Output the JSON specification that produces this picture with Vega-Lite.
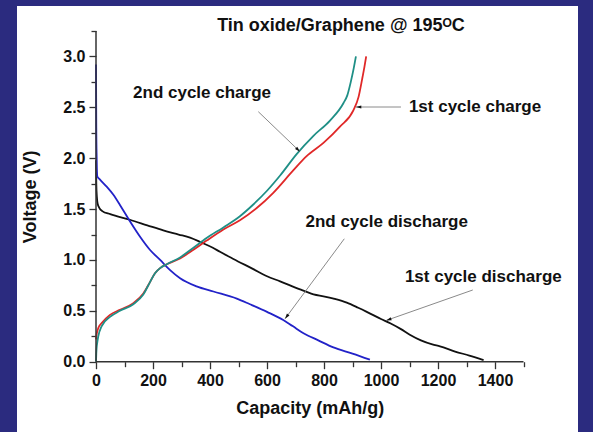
{
  "$schema": "https://vega.github.io/schema/vega-lite/v6.json",
  "width": 561,
  "height": 426,
  "autosize": {"type": "none"},
  "padding": {"left": 17, "top": 6, "right": 15, "bottom": 0},
  "background": "#2b2b7f",
  "config": {"view": {"fill": "white", "stroke": null}, "font": "Liberation Sans"},
  "datasets": {
    "curves": [
      {"series": "1st cycle discharge", "capacity": 0, "voltage": 1.98},
      {"series": "1st cycle discharge", "capacity": 1, "voltage": 1.75},
      {"series": "1st cycle discharge", "capacity": 3, "voltage": 1.62},
      {"series": "1st cycle discharge", "capacity": 6, "voltage": 1.55},
      {"series": "1st cycle discharge", "capacity": 12, "voltage": 1.51},
      {"series": "1st cycle discharge", "capacity": 22, "voltage": 1.48},
      {"series": "1st cycle discharge", "capacity": 50, "voltage": 1.45},
      {"series": "1st cycle discharge", "capacity": 119, "voltage": 1.395},
      {"series": "1st cycle discharge", "capacity": 180, "voltage": 1.34},
      {"series": "1st cycle discharge", "capacity": 236, "voltage": 1.29},
      {"series": "1st cycle discharge", "capacity": 290, "voltage": 1.25},
      {"series": "1st cycle discharge", "capacity": 330, "voltage": 1.22},
      {"series": "1st cycle discharge", "capacity": 371, "voltage": 1.17},
      {"series": "1st cycle discharge", "capacity": 410, "voltage": 1.12},
      {"series": "1st cycle discharge", "capacity": 435, "voltage": 1.08},
      {"series": "1st cycle discharge", "capacity": 482, "voltage": 1.01},
      {"series": "1st cycle discharge", "capacity": 552, "voltage": 0.91},
      {"series": "1st cycle discharge", "capacity": 600, "voltage": 0.84},
      {"series": "1st cycle discharge", "capacity": 646, "voltage": 0.79},
      {"series": "1st cycle discharge", "capacity": 716, "voltage": 0.71},
      {"series": "1st cycle discharge", "capacity": 755, "voltage": 0.67},
      {"series": "1st cycle discharge", "capacity": 834, "voltage": 0.62},
      {"series": "1st cycle discharge", "capacity": 880, "voltage": 0.58},
      {"series": "1st cycle discharge", "capacity": 920, "voltage": 0.53},
      {"series": "1st cycle discharge", "capacity": 950, "voltage": 0.49},
      {"series": "1st cycle discharge", "capacity": 1000, "voltage": 0.42},
      {"series": "1st cycle discharge", "capacity": 1034, "voltage": 0.375},
      {"series": "1st cycle discharge", "capacity": 1070, "voltage": 0.32},
      {"series": "1st cycle discharge", "capacity": 1101, "voltage": 0.265},
      {"series": "1st cycle discharge", "capacity": 1140, "voltage": 0.21},
      {"series": "1st cycle discharge", "capacity": 1180, "voltage": 0.17},
      {"series": "1st cycle discharge", "capacity": 1207, "voltage": 0.15},
      {"series": "1st cycle discharge", "capacity": 1260, "voltage": 0.1},
      {"series": "1st cycle discharge", "capacity": 1310, "voltage": 0.06},
      {"series": "1st cycle discharge", "capacity": 1360, "voltage": 0.016},
      {"series": "2nd cycle discharge", "capacity": 0, "voltage": 2.92},
      {"series": "2nd cycle discharge", "capacity": 0.5, "voltage": 2.6},
      {"series": "2nd cycle discharge", "capacity": 1, "voltage": 2.3},
      {"series": "2nd cycle discharge", "capacity": 2, "voltage": 2.05},
      {"series": "2nd cycle discharge", "capacity": 3, "voltage": 1.9},
      {"series": "2nd cycle discharge", "capacity": 4.7, "voltage": 1.82},
      {"series": "2nd cycle discharge", "capacity": 14, "voltage": 1.79},
      {"series": "2nd cycle discharge", "capacity": 37.5, "voltage": 1.72},
      {"series": "2nd cycle discharge", "capacity": 61, "voltage": 1.64},
      {"series": "2nd cycle discharge", "capacity": 84, "voltage": 1.54},
      {"series": "2nd cycle discharge", "capacity": 119, "voltage": 1.38},
      {"series": "2nd cycle discharge", "capacity": 154, "voltage": 1.23},
      {"series": "2nd cycle discharge", "capacity": 189, "voltage": 1.1},
      {"series": "2nd cycle discharge", "capacity": 225, "voltage": 1.0},
      {"series": "2nd cycle discharge", "capacity": 260, "voltage": 0.9},
      {"series": "2nd cycle discharge", "capacity": 295, "voltage": 0.82},
      {"series": "2nd cycle discharge", "capacity": 353, "voltage": 0.74},
      {"series": "2nd cycle discharge", "capacity": 412, "voltage": 0.69},
      {"series": "2nd cycle discharge", "capacity": 494, "voltage": 0.62},
      {"series": "2nd cycle discharge", "capacity": 540, "voltage": 0.565},
      {"series": "2nd cycle discharge", "capacity": 600, "voltage": 0.49},
      {"series": "2nd cycle discharge", "capacity": 657, "voltage": 0.41},
      {"series": "2nd cycle discharge", "capacity": 690, "voltage": 0.35},
      {"series": "2nd cycle discharge", "capacity": 728, "voltage": 0.28},
      {"series": "2nd cycle discharge", "capacity": 780, "voltage": 0.21},
      {"series": "2nd cycle discharge", "capacity": 833, "voltage": 0.14},
      {"series": "2nd cycle discharge", "capacity": 900, "voltage": 0.08},
      {"series": "2nd cycle discharge", "capacity": 961, "voltage": 0.02},
      {"series": "1st cycle charge", "capacity": 0, "voltage": 0.22},
      {"series": "1st cycle charge", "capacity": 3, "voltage": 0.28},
      {"series": "1st cycle charge", "capacity": 8, "voltage": 0.33},
      {"series": "1st cycle charge", "capacity": 20, "voltage": 0.38},
      {"series": "1st cycle charge", "capacity": 49, "voltage": 0.46},
      {"series": "1st cycle charge", "capacity": 84, "voltage": 0.51},
      {"series": "1st cycle charge", "capacity": 131, "voltage": 0.575},
      {"series": "1st cycle charge", "capacity": 166, "voltage": 0.67},
      {"series": "1st cycle charge", "capacity": 189, "voltage": 0.78},
      {"series": "1st cycle charge", "capacity": 207, "voltage": 0.87},
      {"series": "1st cycle charge", "capacity": 225, "voltage": 0.92},
      {"series": "1st cycle charge", "capacity": 250, "voltage": 0.96},
      {"series": "1st cycle charge", "capacity": 295, "voltage": 1.015},
      {"series": "1st cycle charge", "capacity": 342, "voltage": 1.1},
      {"series": "1st cycle charge", "capacity": 388, "voltage": 1.19},
      {"series": "1st cycle charge", "capacity": 447, "voltage": 1.3},
      {"series": "1st cycle charge", "capacity": 505, "voltage": 1.39},
      {"series": "1st cycle charge", "capacity": 564, "voltage": 1.51},
      {"series": "1st cycle charge", "capacity": 622, "voltage": 1.66},
      {"series": "1st cycle charge", "capacity": 692, "voltage": 1.88},
      {"series": "1st cycle charge", "capacity": 739, "voltage": 2.02},
      {"series": "1st cycle charge", "capacity": 798, "voltage": 2.15},
      {"series": "1st cycle charge", "capacity": 856, "voltage": 2.31},
      {"series": "1st cycle charge", "capacity": 903, "voltage": 2.47},
      {"series": "1st cycle charge", "capacity": 921, "voltage": 2.6},
      {"series": "1st cycle charge", "capacity": 934, "voltage": 2.78},
      {"series": "1st cycle charge", "capacity": 942, "voltage": 2.9},
      {"series": "1st cycle charge", "capacity": 948, "voltage": 3.0},
      {"series": "2nd cycle charge", "capacity": 0, "voltage": 0.0},
      {"series": "2nd cycle charge", "capacity": 1, "voltage": 0.08},
      {"series": "2nd cycle charge", "capacity": 2, "voltage": 0.13},
      {"series": "2nd cycle charge", "capacity": 5, "voltage": 0.2},
      {"series": "2nd cycle charge", "capacity": 8, "voltage": 0.25},
      {"series": "2nd cycle charge", "capacity": 20, "voltage": 0.35},
      {"series": "2nd cycle charge", "capacity": 49, "voltage": 0.44},
      {"series": "2nd cycle charge", "capacity": 84, "voltage": 0.5},
      {"series": "2nd cycle charge", "capacity": 131, "voltage": 0.565},
      {"series": "2nd cycle charge", "capacity": 166, "voltage": 0.66},
      {"series": "2nd cycle charge", "capacity": 189, "voltage": 0.78},
      {"series": "2nd cycle charge", "capacity": 207, "voltage": 0.87},
      {"series": "2nd cycle charge", "capacity": 225, "voltage": 0.92},
      {"series": "2nd cycle charge", "capacity": 250, "voltage": 0.96},
      {"series": "2nd cycle charge", "capacity": 295, "voltage": 1.025},
      {"series": "2nd cycle charge", "capacity": 342, "voltage": 1.12},
      {"series": "2nd cycle charge", "capacity": 388, "voltage": 1.215},
      {"series": "2nd cycle charge", "capacity": 447, "voltage": 1.32},
      {"series": "2nd cycle charge", "capacity": 505, "voltage": 1.43},
      {"series": "2nd cycle charge", "capacity": 550, "voltage": 1.54},
      {"series": "2nd cycle charge", "capacity": 600, "voltage": 1.68},
      {"series": "2nd cycle charge", "capacity": 646, "voltage": 1.83},
      {"series": "2nd cycle charge", "capacity": 704, "voltage": 2.04},
      {"series": "2nd cycle charge", "capacity": 763, "voltage": 2.22},
      {"series": "2nd cycle charge", "capacity": 821, "voltage": 2.37},
      {"series": "2nd cycle charge", "capacity": 868, "voltage": 2.54},
      {"series": "2nd cycle charge", "capacity": 882, "voltage": 2.62},
      {"series": "2nd cycle charge", "capacity": 894, "voltage": 2.75},
      {"series": "2nd cycle charge", "capacity": 904, "voltage": 2.88},
      {"series": "2nd cycle charge", "capacity": 912, "voltage": 3.0}
    ],
    "axislines": [
      {"capacity": 0, "voltage": 0, "capacity2": 1500, "voltage2": 0},
      {"capacity": 0, "voltage": 0, "capacity2": 0, "voltage2": 3.25}
    ],
    "arrows": [
      {"capacity": 569.5, "voltage": 2.457, "capacity2": 715.8, "voltage2": 2.064},
      {"capacity": 1070, "voltage": 2.503, "capacity2": 912, "voltage2": 2.503},
      {"capacity": 871.2, "voltage": 1.208, "capacity2": 663.2, "voltage2": 0.4216},
      {"capacity": 1322, "voltage": 0.7047, "capacity2": 1018, "voltage2": 0.405}
    ],
    "labels": [
      {"label": "2nd cycle charge", "capacity": 372, "voltage": 2.64},
      {"label": "1st cycle charge", "capacity": 1330, "voltage": 2.506},
      {"label": "2nd cycle discharge", "capacity": 1020, "voltage": 1.376},
      {"label": "1st cycle discharge", "capacity": 1359, "voltage": 0.83}
    ],
    "title": [
      {"label": "Tin oxide/Graphene @ 195ᴼC", "capacity": 859.6, "voltage": 3.3}
    ]
  },
  "encoding": {
    "x": {
      "field": "capacity",
      "type": "quantitative",
      "scale": {"domain": [-277.2, 1691.2], "nice": false, "zero": false},
      "axis": {
        "values": [0, 100, 200, 300, 400, 500, 600, 700, 800, 900, 1000, 1100, 1200, 1300, 1400, 1500],
        "format": "d",
        "domain": false,
        "grid": false,
        "offset": -70.3,
        "tickColor": "#333333",
        "tickWidth": 1.3,
        "tickSize": {"condition": {"test": "datum.value % 200 === 0", "value": 7}, "value": 5},
        "labelExpr": "datum.value % 200 === 0 ? datum.label : ''",
        "labelFont": "Liberation Sans",
        "labelFontSize": 16,
        "labelFontWeight": "bold",
        "labelColor": "#111111",
        "labelPadding": 4,
        "labelOverlap": false,
        "labelFlush": false,
        "labelBound": false,
        "title": "Capacity (mAh/g)",
        "titleFont": "Liberation Sans",
        "titleFontSize": 18,
        "titleFontWeight": "bold",
        "titleColor": "#111111",
        "titleX": 292.7,
        "titleY": 46.5,
        "titleAlign": "center",
        "titleBaseline": "middle"
      }
    },
    "y": {
      "field": "voltage",
      "type": "quantitative",
      "scale": {"domain": [-0.6909, 3.4957], "nice": false, "zero": false},
      "axis": {
        "values": [0, 0.25, 0.5, 0.75, 1, 1.25, 1.5, 1.75, 2, 2.25, 2.5, 2.75, 3, 3.25],
        "format": ".1f",
        "domain": false,
        "grid": false,
        "offset": -79,
        "tickColor": "#333333",
        "tickWidth": 1.3,
        "tickSize": {"condition": {"test": "abs(datum.value * 2 - round(datum.value * 2)) < 0.001", "value": 7}, "value": 5},
        "labelExpr": "abs(datum.value * 2 - round(datum.value * 2)) < 0.001 ? datum.label : ''",
        "labelFont": "Liberation Sans",
        "labelFontSize": 16,
        "labelFontWeight": "bold",
        "labelColor": "#111111",
        "labelPadding": 4,
        "labelOverlap": false,
        "labelFlush": false,
        "labelBound": false,
        "title": "Voltage (V)",
        "titleFont": "Liberation Sans",
        "titleFontSize": 18,
        "titleFontWeight": "bold",
        "titleColor": "#111111",
        "titleAngle": -90,
        "titleX": -66,
        "titleY": 190.4,
        "titleAlign": "center",
        "titleBaseline": "middle"
      }
    }
  },
  "layer": [
    {
      "data": {"name": "curves"},
      "mark": {"type": "line", "strokeWidth": 1.8, "interpolate": "monotone"},
      "encoding": {
        "color": {
          "field": "series",
          "type": "nominal",
          "scale": {
            "domain": ["1st cycle discharge", "2nd cycle discharge", "2nd cycle charge", "1st cycle charge"],
            "range": ["#111111", "#2222c8", "#1f8f86", "#e02828"]
          },
          "legend": null
        }
      }
    },
    {
      "data": {"name": "axislines"},
      "mark": {"type": "rule", "color": "#333333", "strokeWidth": 1.5},
      "encoding": {
        "x2": {"field": "capacity2"},
        "y2": {"field": "voltage2"}
      }
    },
    {
      "data": {"name": "arrows"},
      "mark": {"type": "rule", "color": "#8a8a8a", "strokeWidth": 1},
      "encoding": {
        "x2": {"field": "capacity2"},
        "y2": {"field": "voltage2"}
      }
    },
    {
      "data": {"name": "arrows"},
      "transform": [
        {"calculate": "atan2((datum.capacity2 - datum.capacity) * 0.285, (datum.voltage2 - datum.voltage) * 101.75) * 180 / PI", "as": "angle"},
        {"calculate": "datum.capacity2", "as": "capacity"},
        {"calculate": "datum.voltage2", "as": "voltage"}
      ],
      "mark": {"type": "point", "shape": "M0,0L-0.5,1.7L0.5,1.7Z", "filled": true, "color": "#111111", "size": 40, "opacity": 1, "strokeWidth": 0},
      "encoding": {
        "angle": {"field": "angle", "type": "quantitative", "scale": null}
      }
    },
    {
      "data": {"name": "labels"},
      "mark": {"type": "text", "font": "Liberation Sans", "fontSize": 17, "fontWeight": "bold", "color": "#111111", "align": "center", "baseline": "middle"},
      "encoding": {
        "text": {"field": "label"}
      }
    },
    {
      "data": {"name": "title"},
      "mark": {"type": "text", "font": "Liberation Sans", "fontSize": 18, "fontWeight": "bold", "color": "#111111", "align": "center", "baseline": "middle"},
      "encoding": {
        "text": {"field": "label"}
      }
    }
  ]
}
